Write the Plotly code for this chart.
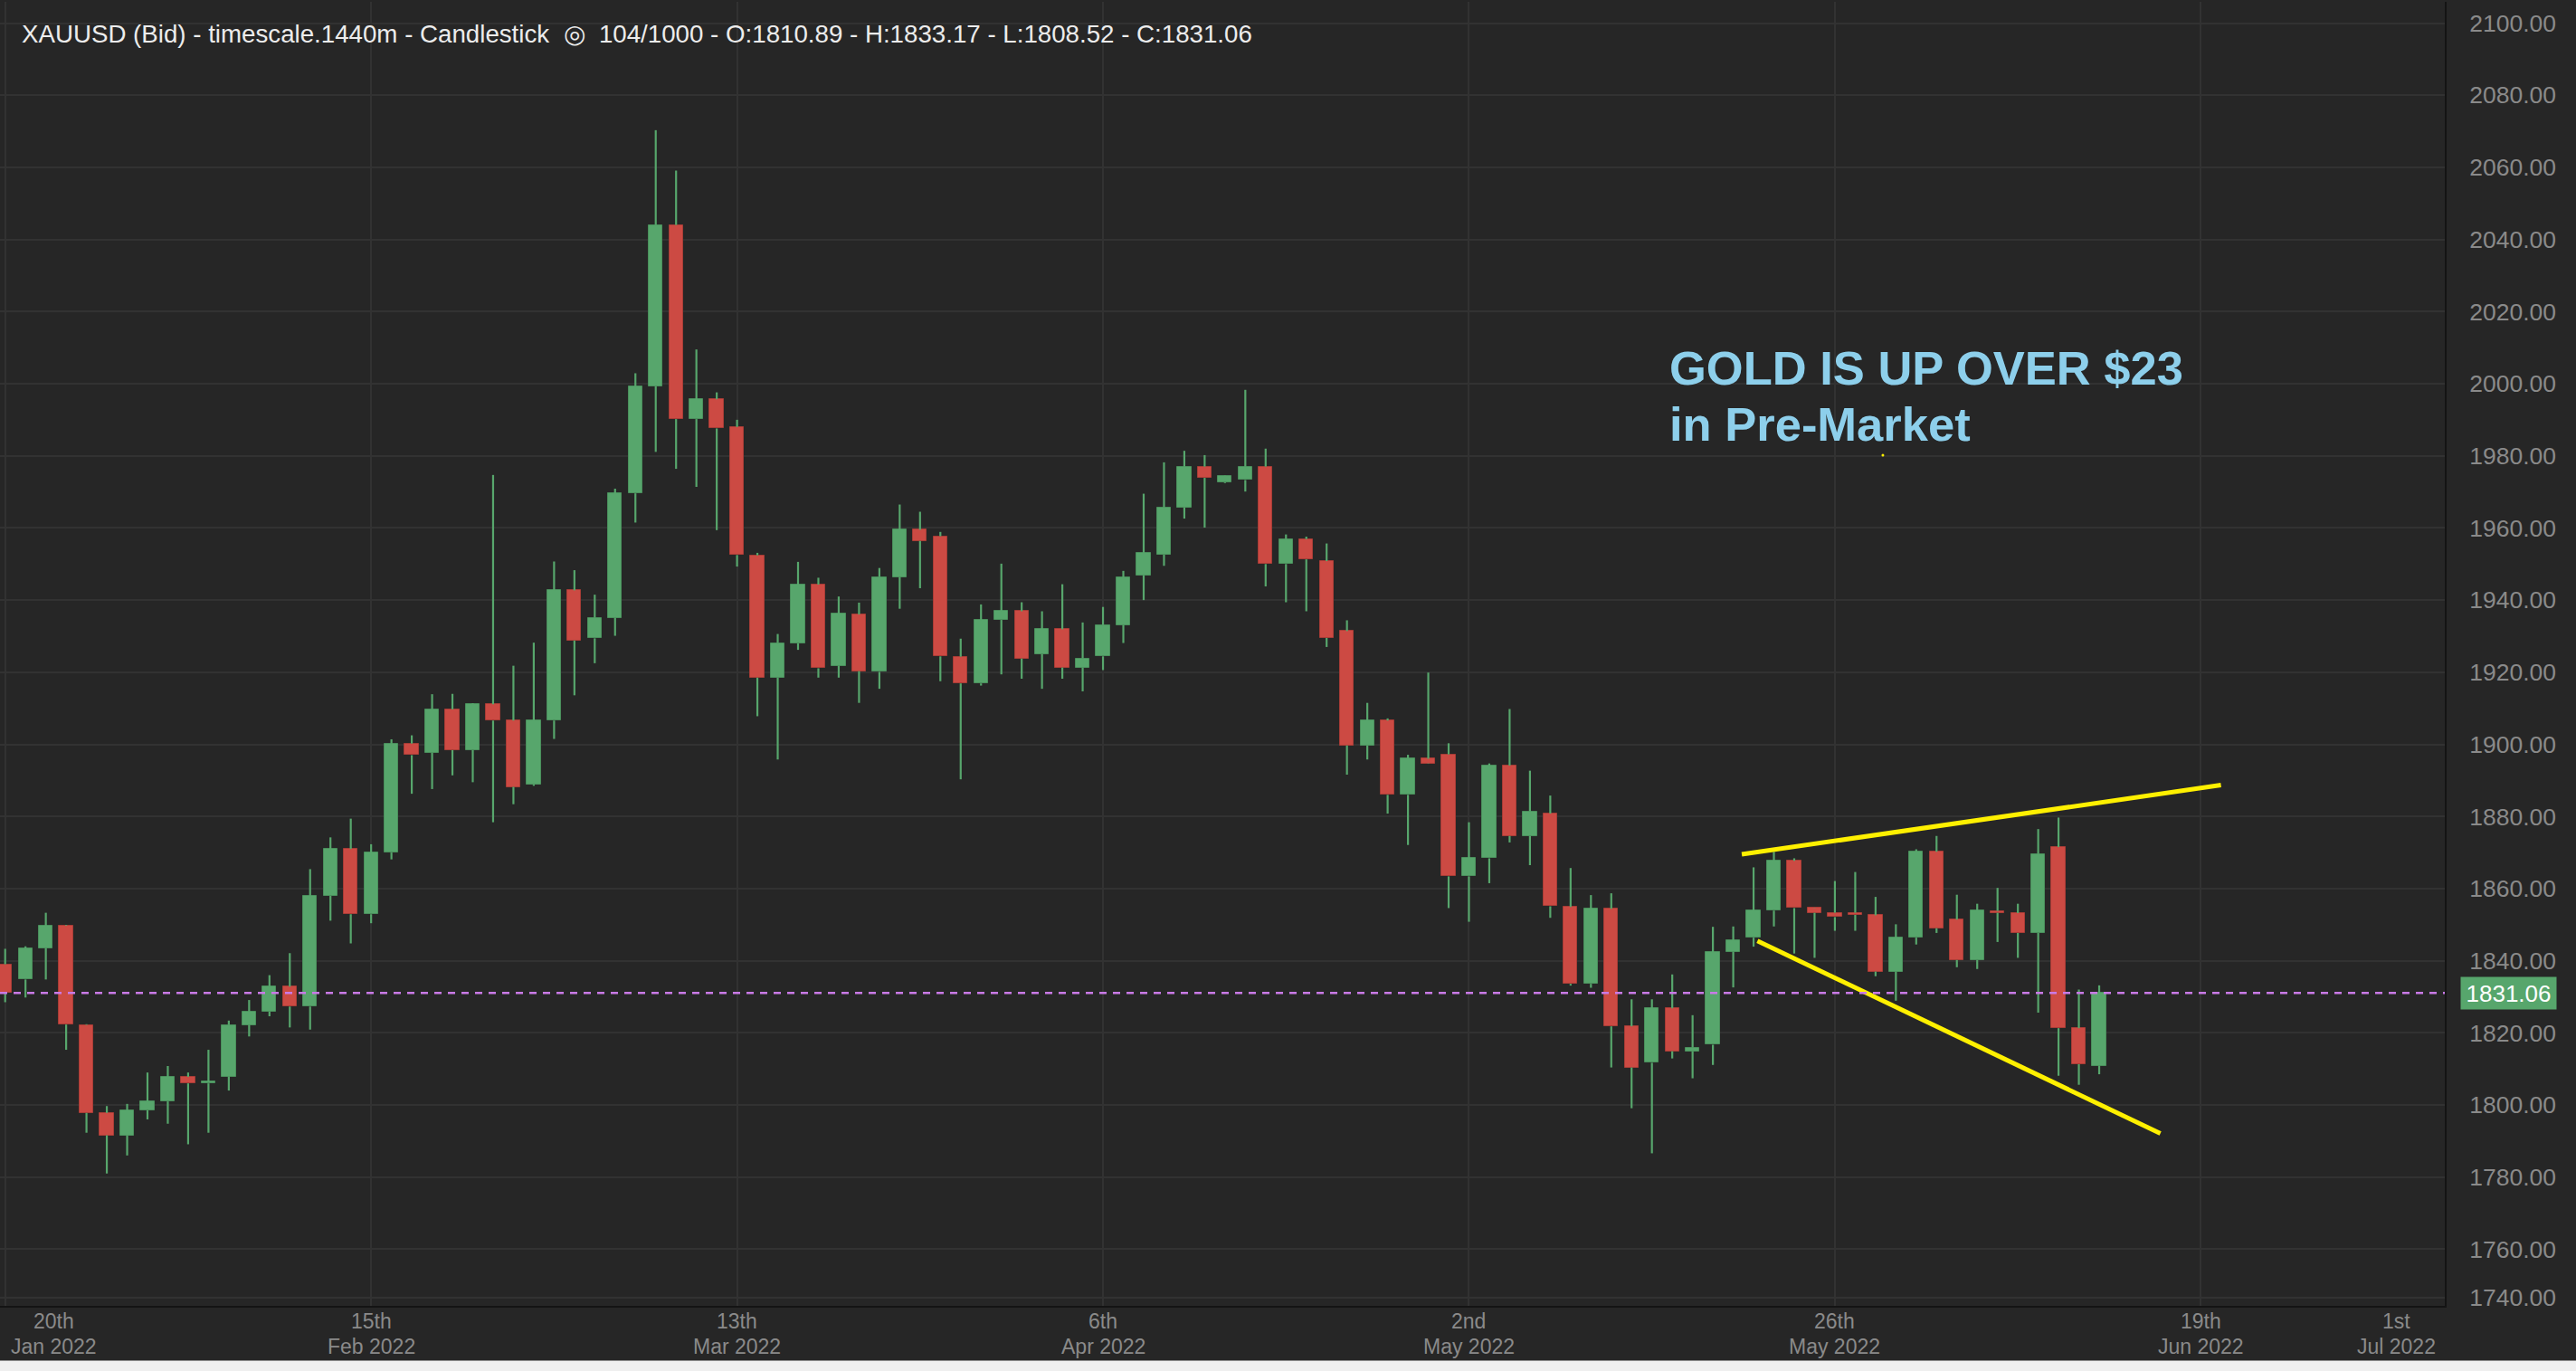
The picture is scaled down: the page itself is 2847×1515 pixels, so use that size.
import plotly.graph_objects as go
import pandas as pd

# ---------------- data ----------------
dates = pd.bdate_range("2022-01-21", periods=104).strftime("%Y-%m-%d").tolist()

open_ = [1839.0, 1834.8, 1843.5, 1849.7, 1822.2, 1797.8, 1791.6, 1798.5, 1801.0, 1807.8,
         1806.0, 1807.9, 1822.2, 1825.9, 1832.8, 1827.3, 1858.0, 1871.0, 1852.9, 1870.0,
         1900.2, 1897.7, 1909.7, 1898.4, 1911.1, 1906.6, 1888.9, 1906.6, 1942.7, 1929.4,
         1935.1, 1969.6, 1999.3, 2044.0, 1990.2, 1995.7, 1988.0, 1952.4, 1918.5, 1928.0,
         1944.3, 1921.8, 1936.0, 1920.1, 1946.4, 1959.5, 1957.7, 1924.3, 1916.9, 1934.5,
         1936.9, 1925.0, 1931.9, 1921.3, 1924.4, 1933.1, 1946.9, 1952.6, 1965.7, 1977.0,
         1972.6, 1973.3, 1977.0, 1950.0, 1956.9, 1950.8, 1931.4, 1899.7, 1906.6, 1886.0,
         1896.0, 1897.2, 1863.4, 1868.4, 1894.1, 1874.6, 1880.8, 1854.9, 1833.6, 1854.4,
         1821.8, 1811.7, 1826.8, 1814.9, 1816.7, 1842.5, 1846.4, 1853.9, 1867.7, 1854.6,
         1853.3, 1853.3, 1852.6, 1837.0, 1846.4, 1870.2, 1851.4, 1840.2, 1853.8, 1853.2,
         1847.7, 1871.5, 1821.3, 1810.89]
high = [1843.3, 1844.0, 1853.3, 1849.9, 1822.4, 1799.7, 1800.3, 1809.0, 1810.8, 1809.0,
        1815.3, 1823.4, 1829.1, 1836.0, 1842.1, 1865.4, 1874.2, 1879.4, 1872.3, 1901.4,
        1902.5, 1913.9, 1914.0, 1911.4, 1974.7, 1921.8, 1928.2, 1950.7, 1948.3, 1941.5,
        1970.9, 2002.9, 2070.3, 2059.1, 2009.5, 1997.6, 1990.0, 1953.1, 1930.6, 1950.6,
        1946.2, 1941.0, 1939.3, 1948.9, 1966.5, 1964.5, 1958.9, 1929.3, 1938.8, 1950.1,
        1939.4, 1936.9, 1944.4, 1933.8, 1938.1, 1948.1, 1969.5, 1978.2, 1981.4, 1980.2,
        1974.6, 1998.3, 1982.0, 1958.2, 1957.6, 1955.7, 1934.4, 1911.5, 1907.2, 1897.1,
        1919.9, 1900.3, 1878.4, 1894.7, 1909.8, 1892.7, 1885.8, 1865.7, 1858.2, 1858.7,
        1829.3, 1829.3, 1836.2, 1824.9, 1849.4, 1849.5, 1865.9, 1870.2, 1868.4, 1854.7,
        1862.1, 1864.6, 1857.7, 1850.1, 1870.9, 1874.6, 1858.3, 1855.8, 1860.2, 1855.8,
        1876.5, 1879.7, 1832.0, 1833.17]
low = [1828.5, 1829.8, 1834.8, 1815.3, 1792.3, 1781.0, 1786.0, 1796.0, 1794.8, 1789.1,
       1792.3, 1804.0, 1819.0, 1824.6, 1821.5, 1820.9, 1851.1, 1844.8, 1850.4, 1868.1,
       1886.3, 1887.6, 1891.4, 1889.5, 1878.4, 1883.4, 1888.5, 1901.5, 1913.6, 1922.5,
       1930.1, 1961.5, 1981.1, 1976.4, 1971.4, 1959.4, 1949.3, 1907.8, 1895.8, 1926.2,
       1918.5, 1918.5, 1911.5, 1915.4, 1937.6, 1943.3, 1917.5, 1890.3, 1916.3, 1919.4,
       1918.2, 1915.4, 1918.2, 1914.7, 1920.6, 1928.1, 1940.0, 1949.5, 1962.6, 1960.1,
       1972.4, 1970.1, 1943.8, 1939.4, 1936.9, 1927.0, 1891.6, 1895.8, 1880.8, 1872.1,
       1894.6, 1854.6, 1850.8, 1861.5, 1872.8, 1866.5, 1851.9, 1833.1, 1832.5, 1810.4,
       1799.1, 1786.6, 1812.9, 1807.4, 1811.1, 1832.6, 1843.9, 1849.5, 1842.0, 1840.8,
       1848.3, 1848.3, 1835.7, 1828.9, 1844.5, 1847.7, 1838.2, 1837.7, 1845.2, 1840.8,
       1825.6, 1808.1, 1805.6, 1808.52]
close = [1831.0, 1843.3, 1849.7, 1822.3, 1797.8, 1791.6, 1798.4, 1800.9, 1807.8, 1806.0,
         1806.3, 1822.2, 1825.9, 1832.8, 1827.3, 1858.0, 1871.0, 1852.9, 1870.0, 1900.2,
         1897.0, 1909.7, 1898.4, 1911.1, 1906.6, 1888.2, 1906.6, 1942.7, 1928.8, 1935.1,
         1969.6, 1999.3, 2044.0, 1990.2, 1995.7, 1987.6, 1952.5, 1918.5, 1928.1, 1944.3,
         1921.1, 1936.2, 1920.3, 1946.4, 1959.5, 1956.4, 1924.4, 1916.9, 1934.4, 1936.9,
         1923.8, 1931.9, 1921.3, 1923.8, 1933.1, 1946.3, 1953.1, 1965.7, 1977.0, 1973.9,
         1974.5, 1977.0, 1950.0, 1956.9, 1951.3, 1929.5, 1899.7, 1906.6, 1886.0, 1896.0,
         1894.7, 1863.4, 1868.4, 1894.1, 1874.6, 1881.4, 1855.1, 1833.6, 1854.4, 1821.8,
         1810.4, 1826.8, 1814.9, 1815.9, 1842.4, 1845.6, 1853.9, 1867.7, 1854.6, 1853.3,
         1852.1, 1852.7, 1837.0, 1846.4, 1870.2, 1849.0, 1840.2, 1853.9, 1853.3, 1847.7,
         1869.6, 1821.3, 1811.3, 1831.06]

# x-axis labels: bar offset, day, month
x_tick_bars = [0, 18, 36, 54, 72, 90, 108]
x_tick_days = ["20th", "15th", "13th", "6th", "2nd", "26th", "19th", "1st"]
x_tick_months = ["Jan 2022", "Feb 2022", "Mar 2022", "Apr 2022", "May 2022",
                 "May 2022", "Jun 2022", "Jul 2022"]
x_label_pos = [2.4, 18, 36, 54, 72, 90, 108, 117.6]

y_tick_vals = list(range(1760, 2101, 20)) + [1746.6]
y_tick_text = [f"{v:.2f}" for v in range(1760, 2101, 20)] + ["1740.00"]

# hand-drawn trend lines (bar index, price)
upper_x = [85.42, 108.99]
upper_y = [1869.5, 1888.7]
lower_x = [86.19, 106.01]
lower_y = [1845.5, 1792.1]
dot_x = [92.36]
dot_y = [1980.2]

symbol = "XAUUSD (Bid)"
last_price = close[-1]

# ---------------- styling ----------------
BG = "#262626"
GRID = "#323232"
GREEN = "#57a66c"
GREEN_EDGE = "#4a8f5c"
RED = "#cc4a43"
RED_EDGE = "#a83c36"
AXTXT = "#8a8a8a"
PURPLE = "#c97ae6"
YELLOW = "#fff000"
FONT = "Liberation Sans, Arial, sans-serif"

n = len(open_)
x = list(range(n))
is_up = [c >= o for o, c in zip(open_, close)]
body_base = [min(o, c) for o, c in zip(open_, close)]
body_top = [max(o, c) for o, c in zip(open_, close)]
body_h = [max(t - b, 0.5) for t, b in zip(body_top, body_base)]

wx, wy = [], []
for i in range(n):
    wx += [i, i, None, i, i, None]
    wy += [high[i], body_top[i], None, body_base[i], low[i], None]

fig = go.Figure()
fig.add_trace(go.Scatter(x=wx, y=wy, mode="lines", line=dict(color=GREEN, width=2.2),
                         hoverinfo="skip", showlegend=False))
fig.add_trace(go.Bar(
    x=x, y=body_h, base=body_base, width=0.68,
    marker=dict(color=[GREEN if u else RED for u in is_up],
                line=dict(color=[GREEN_EDGE if u else RED_EDGE for u in is_up], width=1)),
    customdata=list(zip(dates, open_, high, low, close)),
    hovertemplate="%{customdata[0]}<br>O:%{customdata[1]} H:%{customdata[2]} L:%{customdata[3]} C:%{customdata[4]}<extra></extra>",
    showlegend=False))
fig.add_trace(go.Scatter(x=upper_x, y=upper_y, mode="lines",
                         line=dict(color=YELLOW, width=5), hoverinfo="skip", showlegend=False))
fig.add_trace(go.Scatter(x=lower_x, y=lower_y, mode="lines",
                         line=dict(color=YELLOW, width=5), hoverinfo="skip", showlegend=False))
fig.add_trace(go.Scatter(x=dot_x, y=dot_y, mode="markers",
                         marker=dict(color=YELLOW, size=3), hoverinfo="skip", showlegend=False))

# current price line
fig.add_shape(type="line", xref="paper", x0=0, x1=1, yref="y", y0=last_price, y1=last_price,
              line=dict(color=PURPLE, width=2.5, dash="8px,7px"), layer="above")
# light strip at the very bottom of the page
fig.add_shape(type="rect", xref="paper", x0=-0.01, x1=1.06, yref="paper", y0=-0.0419, y1=-0.06,
              fillcolor="#efefef", line=dict(width=0), layer="above")

ann = []
# header
ann.append(dict(xref="paper", yref="paper", x=22 / 2702, y=(1443 - 38) / 1441,
                xanchor="left", yanchor="middle", showarrow=False,
                text=(f"{symbol} - timescale.1440m - Candlestick\u00a0\u00a0\u25CE\u00a0\u00a0104/1000 - "
                      f"O:{open_[-1]:.2f} - H:{high[-1]:.2f} - L:{low[-1]:.2f} - C:{close[-1]:.2f}"),
                font=dict(family=FONT, size=27.7, color="#ececec")))
# headline
ann.append(dict(xref="paper", yref="paper", x=1843 / 2702, y=(1443 - 406) / 1441,
                xanchor="left", yanchor="middle", showarrow=False,
                text="<b>GOLD IS UP OVER $23</b>",
                font=dict(family=FONT, size=52.5, color="#8dcfeb")))
ann.append(dict(xref="paper", yref="paper", x=1843 / 2702, y=(1443 - 468) / 1441,
                xanchor="left", yanchor="middle", showarrow=False,
                text="<b>in Pre-Market</b>",
                font=dict(family=FONT, size=52.5, color="#8dcfeb")))
# x labels (two lines each)
for pos, d, m in zip(x_label_pos, x_tick_days, x_tick_months):
    ann.append(dict(xref="x", yref="paper", x=pos, y=(1443 - 1459.5) / 1441, xanchor="center",
                    yanchor="middle", showarrow=False, text=d,
                    font=dict(family=FONT, size=23, color=AXTXT)))
    ann.append(dict(xref="x", yref="paper", x=pos, y=(1443 - 1487.5) / 1441, xanchor="center",
                    yanchor="middle", showarrow=False, text=m,
                    font=dict(family=FONT, size=23, color=AXTXT)))
# last price tag
ann.append(dict(xref="paper", yref="y", x=2719.4 / 2702, y=last_price, xanchor="left",
                yanchor="middle", showarrow=False, text=f"{last_price:.2f}",
                width=105, height=35, bgcolor=GREEN, borderpad=0,
                font=dict(family=FONT, size=26, color="#ffffff")))

fig.update_layout(
    width=2847, height=1515, autosize=False,
    margin=dict(l=0, r=145, t=2, b=72, pad=0),
    paper_bgcolor=BG, plot_bgcolor=BG,
    bargap=0, showlegend=False, annotations=ann,
    hovermode="closest",
)
fig.update_xaxes(range=[-0.254, 120.0], tickvals=x_tick_bars, showticklabels=False,
                 showgrid=True, gridcolor=GRID, gridwidth=2, zeroline=False,
                 showline=True, linecolor="#141414", linewidth=2, ticks="", fixedrange=True)
fig.update_yaxes(range=[1744.3, 2105.9], side="right", tickvals=y_tick_vals, ticktext=y_tick_text,
                 tickfont=dict(family=FONT, size=26.5, color=AXTXT), ticklabelstandoff=20,
                 showgrid=True, gridcolor=GRID, gridwidth=2, zeroline=False,
                 showline=True, linecolor="#141414", linewidth=2, ticks="", fixedrange=True)

fig.write_html("out.html", config={"displayModeBar": False},
               post_script="document.body.style.margin='0px';document.body.style.overflow='hidden';")
